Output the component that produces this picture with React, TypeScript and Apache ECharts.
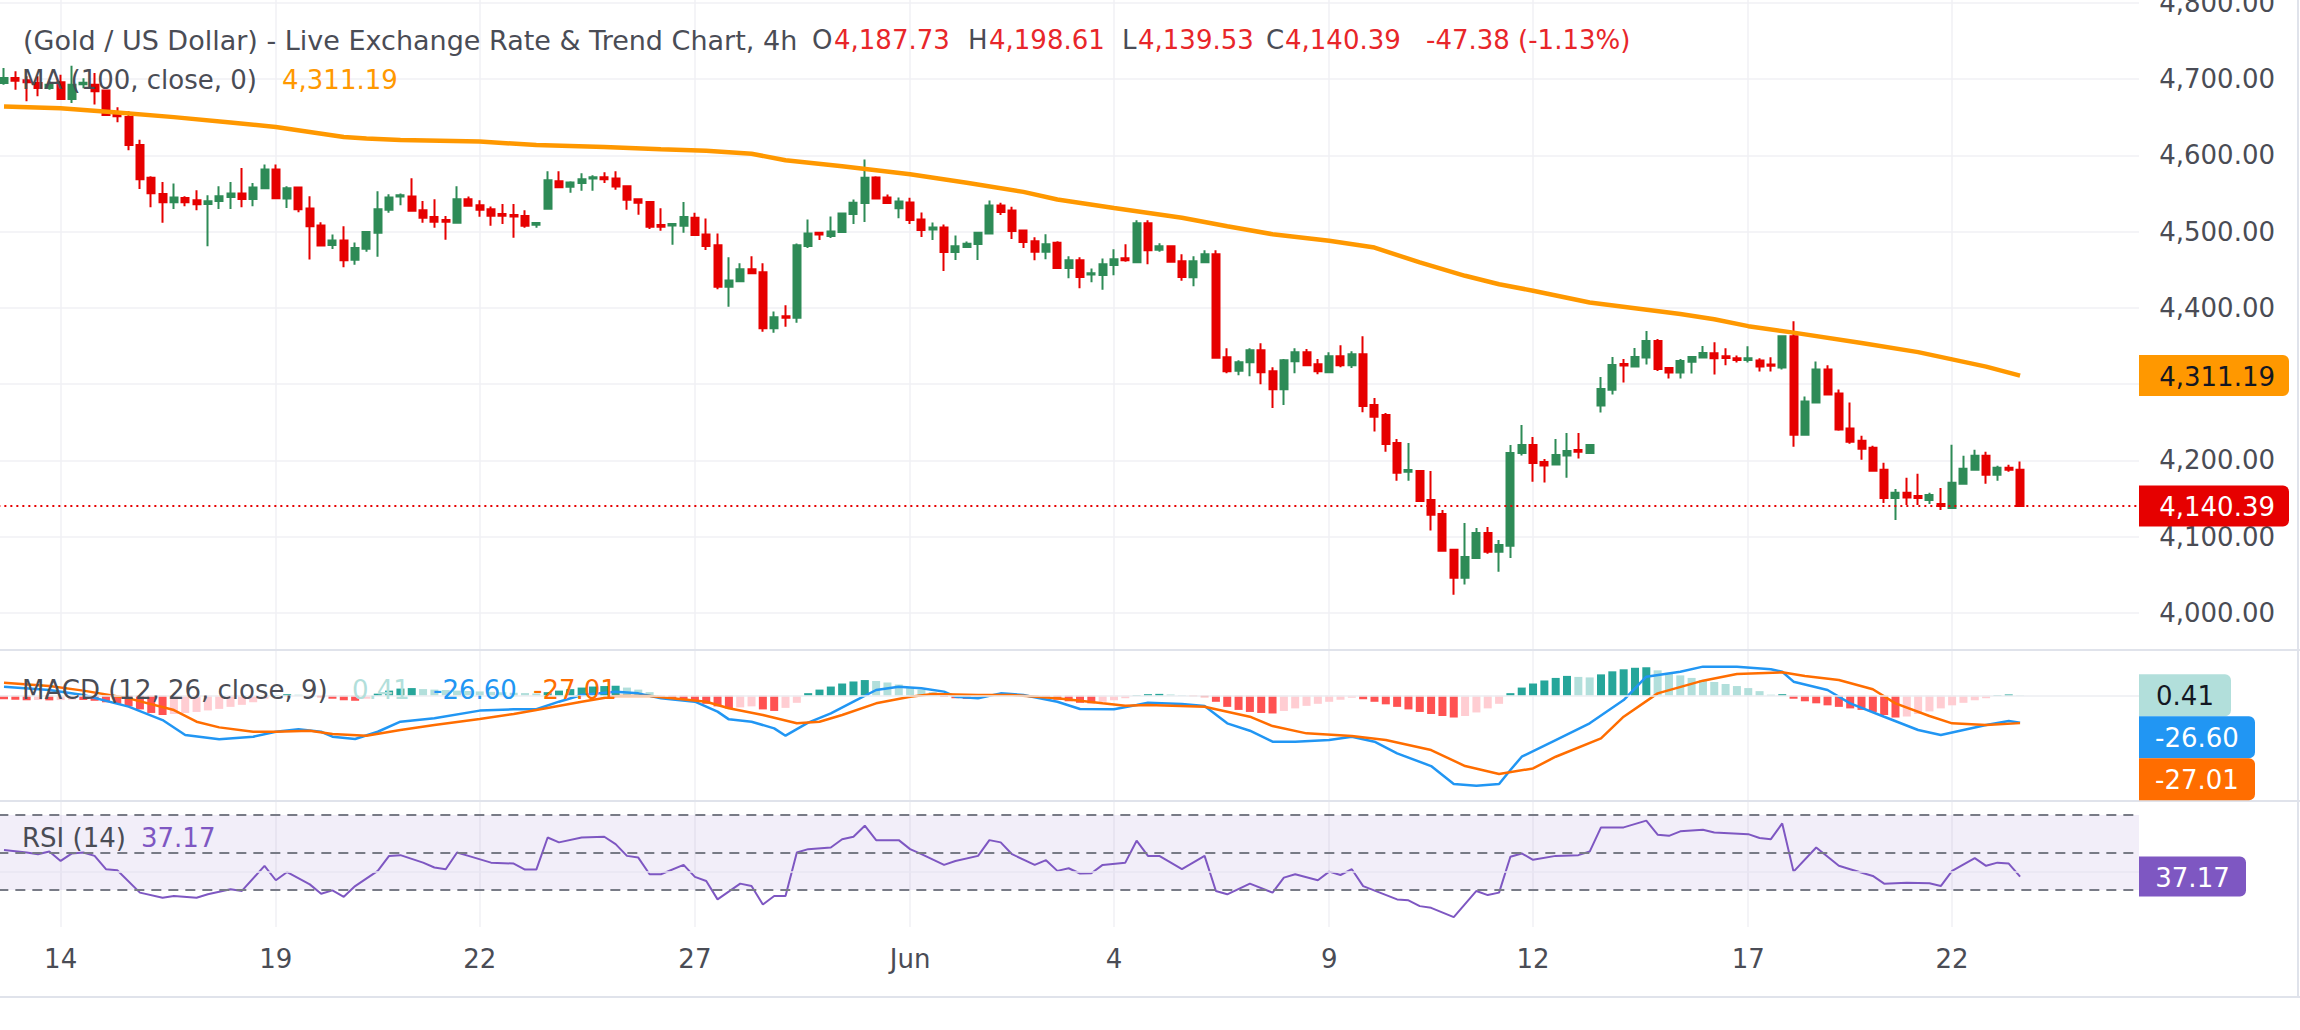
import React, { useEffect, useRef } from "react";
import * as echarts from "echarts";

// ---- 4h candles, XAU/USD ----
const openValues = [
  4694.8, 4701.3, 4698.3, 4694.8, 4688.2, 4695.6, 4673.8, 4693.0, 4692.6, 4685.0,
  4653.3, 4650.2, 4613.5, 4570.7, 4549.3, 4538.4, 4544.1, 4541.0, 4536.2, 4540.2,
  4545.4, 4549.8, 4542.8, 4556.8, 4581.2, 4543.2, 4557.6, 4530.1, 4507.9, 4482.5,
  4488.2, 4463.2, 4477.6, 4498.5, 4528.5, 4546.0, 4546.0, 4528.1, 4519.0, 4515.0,
  4511.5, 4542.5, 4534.6, 4529.4, 4522.9, 4521.6, 4520.3, 4508.9, 4529.8, 4566.0,
  4558.6, 4563.8, 4569.5, 4571.2, 4569.5, 4559.5, 4542.5, 4538.6, 4508.5, 4508.0,
  4507.6, 4518.1, 4496.3, 4481.9, 4427.5, 4434.9, 4450.5, 4446.6, 4373.4, 4389.1,
  4386.9, 4481.0, 4498.5, 4494.1, 4499.3, 4522.9, 4537.3, 4570.8, 4544.7, 4530.7,
  4538.1, 4515.9, 4502.8, 4505.4, 4473.2, 4479.7, 4483.7, 4497.6, 4534.2, 4527.7,
  4501.5, 4487.3, 4473.4, 4485.2, 4452.4, 4462.4, 4443.7, 4443.2, 4456.3, 4465.1,
  4459.8, 4510.9, 4476.0, 4480.8, 4461.1, 4440.2, 4459.8, 4470.3, 4335.4, 4317.5,
  4328.8, 4344.5, 4317.0, 4293.4, 4330.1, 4341.9, 4326.2, 4315.7, 4336.7, 4324.9,
  4339.3, 4272.7, 4259.6, 4222.9, 4185.3, 4186.2, 4148.2, 4129.8, 4083.0, 4046.3,
  4072.1, 4104.9, 4080.4, 4088.3, 4209.8, 4220.3, 4198.0, 4194.5, 4206.3, 4213.7,
  4209.8, 4271.9, 4292.8, 4326.5, 4323.0, 4334.8, 4356.6, 4321.2, 4315.1, 4329.5,
  4334.8, 4340.4, 4336.4, 4333.8, 4331.6, 4331.1, 4325.9, 4321.9, 4362.7, 4233.8,
  4275.9, 4319.3, 4287.7, 4241.7, 4225.9, 4216.7, 4187.7, 4150.9, 4157.5, 4153.5,
  4148.2, 4143.0, 4137.7, 4169.3, 4187.7, 4206.1, 4181.1, 4190.4, 4187.73,
];
const highValues = [
  4714.4, 4710.0, 4703.5, 4703.5, 4697.0, 4705.7, 4717.5, 4701.0, 4707.9, 4685.0,
  4662.9, 4657.6, 4620.5, 4572.5, 4565.1, 4562.9, 4546.3, 4554.1, 4547.6, 4559.4,
  4565.1, 4583.4, 4563.8, 4587.8, 4587.8, 4559.4, 4557.6, 4546.3, 4512.2, 4496.1,
  4507.0, 4485.8, 4500.7, 4552.9, 4549.0, 4549.9, 4569.9, 4539.9, 4542.5, 4520.3,
  4559.5, 4546.0, 4541.2, 4532.9, 4536.0, 4536.0, 4528.1, 4511.1, 4579.1, 4579.1,
  4566.0, 4576.5, 4573.9, 4577.8, 4579.1, 4559.5, 4542.5, 4539.9, 4530.7, 4509.8,
  4538.6, 4524.6, 4517.2, 4497.6, 4466.2, 4458.4, 4467.5, 4458.4, 4395.2, 4403.5,
  4484.5, 4515.9, 4499.8, 4519.8, 4524.6, 4542.0, 4594.3, 4572.5, 4548.6, 4544.7,
  4544.2, 4525.0, 4512.0, 4509.4, 4495.0, 4487.1, 4498.5, 4540.7, 4537.7, 4532.5,
  4502.8, 4492.6, 4496.5, 4487.3, 4467.7, 4466.4, 4451.5, 4464.6, 4476.9, 4483.4,
  4514.8, 4514.8, 4484.7, 4480.8, 4470.3, 4467.7, 4475.5, 4475.5, 4347.2, 4331.4,
  4347.2, 4353.7, 4322.3, 4332.8, 4347.2, 4345.9, 4332.8, 4341.9, 4351.1, 4343.2,
  4362.9, 4281.9, 4262.2, 4228.1, 4222.9, 4187.5, 4186.2, 4135.0, 4083.9, 4118.0,
  4111.4, 4112.8, 4095.7, 4220.3, 4246.5, 4230.8, 4202.0, 4228.1, 4236.0, 4236.0,
  4220.3, 4309.4, 4335.7, 4333.0, 4347.5, 4369.8, 4359.3, 4322.6, 4333.0, 4335.7,
  4350.1, 4354.8, 4346.9, 4337.7, 4349.6, 4333.8, 4335.1, 4364.0, 4382.5, 4283.8,
  4329.8, 4324.6, 4293.0, 4275.9, 4232.5, 4219.3, 4196.9, 4162.7, 4177.2, 4182.5,
  4157.5, 4164.0, 4220.6, 4206.1, 4214.0, 4211.4, 4193.0, 4194.3, 4198.61,
];
const lowValues = [
  4692.6, 4686.0, 4670.7, 4677.3, 4686.0, 4672.9, 4668.6, 4688.0, 4666.4, 4652.0,
  4643.2, 4606.6, 4555.9, 4531.9, 4511.4, 4529.7, 4533.2, 4528.0, 4480.8, 4529.7,
  4529.7, 4531.9, 4533.2, 4556.8, 4543.7, 4531.0, 4525.3, 4463.3, 4480.8, 4477.3,
  4453.3, 4456.6, 4473.6, 4467.1, 4524.6, 4534.6, 4527.2, 4511.5, 4505.0, 4489.3,
  4511.5, 4532.9, 4519.4, 4507.6, 4509.8, 4491.9, 4505.0, 4505.0, 4529.8, 4557.3,
  4550.8, 4553.4, 4553.4, 4563.8, 4554.7, 4528.5, 4522.0, 4503.3, 4501.1, 4482.8,
  4498.5, 4495.4, 4475.8, 4424.4, 4401.3, 4434.0, 4444.0, 4368.6, 4367.3, 4375.2,
  4380.4, 4478.4, 4488.9, 4491.5, 4499.3, 4509.8, 4512.4, 4542.0, 4537.3, 4517.6,
  4509.8, 4492.8, 4488.9, 4448.4, 4462.7, 4479.7, 4462.7, 4497.6, 4521.6, 4490.2,
  4478.4, 4462.4, 4463.8, 4452.4, 4438.9, 4425.8, 4433.6, 4423.6, 4442.8, 4460.3,
  4459.0, 4457.2, 4473.4, 4460.3, 4435.4, 4428.4, 4458.5, 4334.5, 4314.4, 4311.8,
  4310.5, 4300.0, 4268.6, 4272.5, 4314.4, 4323.6, 4313.1, 4314.4, 4322.3, 4321.0,
  4263.3, 4237.8, 4211.5, 4173.5, 4173.5, 4146.0, 4108.0, 4081.7, 4024.0, 4037.2,
  4070.8, 4077.8, 4054.2, 4072.1, 4206.3, 4172.2, 4170.9, 4193.2, 4177.4, 4202.4,
  4209.8, 4262.7, 4286.3, 4302.0, 4323.0, 4325.6, 4317.3, 4307.3, 4307.3, 4313.8,
  4333.5, 4312.7, 4324.6, 4328.5, 4328.5, 4316.7, 4316.7, 4319.3, 4218.0, 4233.8,
  4275.9, 4286.4, 4239.0, 4221.9, 4200.9, 4186.4, 4144.3, 4121.9, 4141.7, 4141.7,
  4143.0, 4135.1, 4137.7, 4169.3, 4187.7, 4169.3, 4173.2, 4185.1, 4139.53,
];
const closeValues = [
  4701.3, 4697.8, 4695.6, 4688.2, 4692.6, 4673.8, 4692.6, 4695.0, 4683.8, 4652.8,
  4651.0, 4613.5, 4568.6, 4550.2, 4538.4, 4544.5, 4538.4, 4535.8, 4539.7, 4546.3,
  4549.8, 4542.8, 4557.6, 4581.2, 4543.7, 4556.8, 4529.3, 4507.0, 4481.7, 4488.2,
  4462.4, 4478.4, 4499.3, 4529.4, 4544.7, 4547.7, 4527.2, 4518.1, 4512.9, 4512.9,
  4542.5, 4533.8, 4528.5, 4520.7, 4520.7, 4519.8, 4507.6, 4511.1, 4567.3, 4558.2,
  4564.3, 4568.6, 4571.2, 4568.6, 4559.0, 4541.6, 4537.7, 4506.3, 4506.3, 4509.8,
  4519.0, 4495.4, 4481.0, 4427.5, 4435.7, 4450.5, 4445.3, 4373.4, 4387.8, 4386.9,
  4481.9, 4497.6, 4496.3, 4500.2, 4523.7, 4537.7, 4570.4, 4543.4, 4537.3, 4539.4,
  4515.0, 4502.0, 4505.4, 4473.2, 4480.6, 4484.1, 4498.5, 4534.2, 4525.5, 4500.7,
  4486.3, 4473.4, 4483.4, 4452.4, 4462.4, 4440.6, 4445.4, 4457.2, 4463.8, 4462.4,
  4510.9, 4475.5, 4480.8, 4460.3, 4440.6, 4461.1, 4470.3, 4334.5, 4317.0, 4328.8,
  4344.5, 4315.7, 4293.4, 4331.4, 4341.9, 4324.9, 4317.0, 4336.7, 4324.9, 4339.3,
  4271.2, 4257.4, 4221.6, 4184.0, 4187.5, 4146.9, 4128.9, 4081.7, 4046.3, 4073.4,
  4104.9, 4080.4, 4089.2, 4209.8, 4220.3, 4196.7, 4193.2, 4207.2, 4212.4, 4211.5,
  4220.3, 4293.7, 4325.2, 4324.3, 4335.7, 4356.6, 4319.9, 4315.1, 4330.4, 4335.7,
  4340.9, 4333.8, 4334.2, 4331.6, 4333.8, 4323.2, 4324.1, 4362.7, 4233.8, 4277.2,
  4319.3, 4286.4, 4240.4, 4224.6, 4215.4, 4186.4, 4150.9, 4157.5, 4151.3, 4150.9,
  4154.8, 4140.4, 4170.6, 4189.0, 4206.1, 4181.1, 4190.4, 4187.77, 4140.39,
];

// Candles where a new session date starts, and the caption printed under them
const dayTickIndex = [5, 24, 42, 61, 80, 98, 117, 135, 154, 172];
const dayTickLabel = ["14", "19", "22", "27", "Jun", "4", "9", "12", "17", "22"];

// MA (100, close) — [candle index, value]
const maPoints = [
  [0, 4664], [5, 4661.5], [10, 4656], [15, 4650], [20, 4643], [24, 4637], [30, 4624],
  [32, 4622], [35, 4620], [42, 4618], [47, 4613.5], [53, 4611], [58, 4608], [62, 4606],
  [66, 4602], [69, 4593.5], [74, 4585.5], [80, 4575], [85, 4564], [90, 4552], [93, 4542],
  [98, 4531], [104, 4518], [108, 4507], [112, 4496.5], [117, 4488], [121, 4479],
  [125, 4459.5], [129, 4442], [132, 4431], [135, 4422.5], [140, 4407], [144, 4399.5],
  [148, 4392], [151, 4385], [154, 4376], [158, 4367.5], [164, 4354], [169, 4342],
  [172, 4332.5], [175, 4323], [178, 4311.19],
];

// MACD (12, 26, close, 9)
const macdPoints = [
  [0, 8.9], [4, 5.6], [7, 0.7], [11, -10.8], [14, -24], [16, -38.7], [19, -43], [22, -40.4],
  [24, -35.5], [26, -33.1], [28, -35.5], [29, -40.4], [31, -42.7], [33, -35.5], [35, -25.6],
  [38, -22.3], [42, -14.7], [45, -13.4], [47, -13.4], [49, -5.9], [51, 0.7], [54, 4],
  [56, 2.3], [58, -2.6], [61, -5.9], [63, -15.7], [64, -23.3], [66, -25.6], [68, -32.2],
  [69, -39.4], [71, -26.6], [73, -17.4], [75, -5.9], [77, 5.6], [79, 8.9], [81, 7.3],
  [83, 4], [84, -1], [86, -2.6], [88, 2.3], [90, 0.7], [93, -5.9], [95, -13.1], [98, -13.4],
  [100, -9.2], [101, -6.9], [104, -8.2], [106, -10.1], [108, -27.2], [110, -34.5],
  [112, -45.3], [114, -45.3], [117, -43.6], [119, -40.4], [121, -45.3], [123, -56.8],
  [126, -69.3], [128, -87], [130, -88.6], [132, -87], [133, -73.2], [134, -60.1],
  [137, -43.7], [140, -27.2], [143, -4.3], [145, 18.7], [148, 23.6], [150, 28.6],
  [153, 28.6], [156, 26], [157, 23.6], [158, 13.8], [161, 5.6], [163, -7.5], [166, -20.7],
  [169, -33.8], [171, -38.7], [173, -33.8], [175, -28.9], [177, -24.9], [178, -26.6],
];
const signalPoints = [
  [0, 12.8], [4, 9.6], [7, 5], [11, -2.6], [15, -14.1], [17, -25.6], [19, -31.2], [22, -35.5],
  [24, -35.5], [27, -34.5], [29, -37.7], [32, -39.4], [35, -33.8], [38, -28.9], [42, -23],
  [45, -18], [47, -14.1], [51, -5.9], [54, -0.3], [57, -0.3], [59, -2.6], [62, -5.9],
  [64, -12.4], [67, -19], [70, -27.2], [72, -25.6], [74, -19], [77, -7.5], [80, -1],
  [82, 1.7], [86, 0.7], [89, 0.7], [93, -2.6], [97, -7.5], [99, -9.8], [101, -9.2],
  [106, -10.8], [110, -20.7], [112, -29.9], [115, -37.1], [119, -39.7], [122, -43.7],
  [126, -53.5], [129, -69.3], [132, -77.2], [135, -71.6], [137, -60.1], [141, -42],
  [143, -20.7], [146, 2.3], [150, 14.8], [153, 21.4], [157, 23], [159, 19.4], [162, 15.5],
  [165, 6.3], [167, -7.5], [170, -20], [172, -27.2], [175, -28.9], [178, -27.01],
];
const histValues = [
  -3.5, -4.0, -4.5, -4.2, -4.6, -4.3, -3.9, -4.2, -5.0,
  -6.5, -8.0, -10.5, -13.5, -17.0, -19.0,
  -18.0, -17.0, -16.0, -14.5, -13.0, -11.0, -9.0, -6.5, -3.0,
  0.5, 1.5, 1.0, 0.3, -1.5, -3.0, -4.5, -5.0, -3.0,
  2.0, 5.0, 7.0, 7.5,
  6.5, 6.0, 5.6, 5.0, 4.6, 4.2, 3.8, 3.4, 3.0, 2.6, 2.2,
  3.5, 5.0, 6.5, 8.0, 9.0, 9.5, 9.8,
  8.0, 6.0, 3.5,
  -1.5, -3.0, -4.5, -6.0, -8.0, -10.5, -12.5, -11.5, -10.5, -13.5, -15.0, -12.0, -7.0,
  2.5, 6.0, 9.0, 12.0, 14.0, 15.4, 14.5,
  13.0, 11.0, 8.5, 6.0, 3.5,
  -1.0, -2.5, -3.2, -2.0,
  0.8, 1.5, 1.2, 0.5,
  -1.0, -2.5, -4.0, -5.5, -7.0, -7.5, -6.0, -4.5, -2.5,
  0.5, 1.5, 1.8, 1.2, 0.6, -0.5, -1.5,
  -6.0, -11.0, -14.0, -16.0, -17.0, -17.5,
  -15.0, -12.5, -10.0, -8.0, -6.0, -4.0, -2.0,
  -3.5, -6.0, -8.5, -11.0, -13.5, -16.0, -18.0, -20.0, -21.5,
  -20.0, -16.5, -12.5, -8.0,
  2.5, 8.0, 12.0, 15.0, 17.5, 19.5, 18.5, 18.0, 21.0, 24.0, 26.0, 27.5, 28.0,
  25.0, 22.5, 20.0, 17.5, 15.5, 13.5, 11.5, 9.5, 7.5, 4.5, 1.0,
  1.5,
  -3.0, -5.5, -7.5, -9.5, -11.0, -12.5, -14.0, -16.0, -19.0, -21.5,
  -20.5, -18.0, -15.5, -12.5, -9.5, -7.0, -4.5, -2.5,
  0.5, 1.2, 0.41,
];

// RSI (14)
const rsiPoints = [
  [0, 51.3], [2, 50], [3, 49.1], [4, 50.5], [5, 45.5], [6, 49.5], [7, 50], [8, 48.2], [9, 41.1],
  [10, 40.5], [12, 28.6], [14, 25.9], [15, 26.8], [17, 25.9], [18, 27.7], [20, 30.4], [21, 29.5],
  [23, 42.9], [24, 35.2], [25, 39.6], [27, 33], [28, 28], [29, 29.8], [30, 26.4], [31, 32.1],
  [33, 40.2], [34, 48.2], [35, 48.6], [37, 44.6], [38, 42], [39, 41.1], [40, 50], [41, 48.2],
  [43, 44.6], [45, 44.1], [46, 40.9], [47, 40.9], [48, 58], [49, 55.4], [51, 58], [53, 58.4],
  [54, 54.5], [55, 48.2], [56, 47.3], [57, 38.4], [58, 38.4], [60, 43.4], [61, 37], [62, 34.8],
  [63, 25], [65, 33.4], [66, 32.1], [67, 22.3], [68, 26.8], [69, 26.8], [70, 50], [71, 51.8],
  [73, 52.7], [74, 57.1], [75, 58.4], [76, 64.3], [77, 56.6], [79, 56.6], [80, 51.8], [81, 49.1],
  [83, 43.4], [84, 45.5], [86, 48.2], [87, 56.6], [88, 55.4], [89, 49.1], [91, 43.4], [92, 45.9],
  [93, 40.2], [94, 41.6], [95, 38.8], [96, 38.9], [97, 43.4], [99, 44.6], [100, 56.3], [101, 48.2],
  [102, 48.2], [104, 41.1], [106, 48.2], [107, 29.5], [108, 27.7], [110, 33.4], [112, 28.6],
  [113, 36.6], [114, 38.4], [116, 35.2], [117, 39.8], [118, 38], [119, 41.1], [120, 32.1],
  [123, 25], [124, 24.5], [125, 21.4], [126, 20.5], [128, 15.5], [130, 29.5], [131, 27.3],
  [132, 28.6], [133, 47.7], [134, 49.5], [135, 46.1], [137, 48.2], [139, 48.6], [140, 50.5],
  [141, 63.4], [143, 63.4], [145, 67], [146, 59.5], [147, 58.9], [148, 61.3], [150, 62.1],
  [151, 60.7], [154, 59.8], [155, 57.7], [156, 57.1], [157, 65.5], [158, 39.8], [160, 52.7],
  [162, 42.9], [163, 41.1], [165, 37.5], [166, 33.4], [168, 33.9], [170, 33.6], [171, 32.1],
  [172, 40.2], [174, 47], [175, 42.9], [176, 44.6], [177, 44.1], [178, 37.17],
];
const rsiBands = [70, 50, 30];

// ---- layout ----
const FONT = "DejaVu Sans";
const TEXT = "#4a4c55";
const UP = "#2e8b57";
const DOWN = "#e60000";
const GRID_LINE = "#f0f1f4";
const PANE_LINE = "#e0e3eb";

const SLOT_COUNT = 189; // candles plus empty room on the right
const slotNames = Array.from({ length: SLOT_COUNT }, (_, i) => "s" + i);
const PLOT_LEFT = -1.66;
const PLOT_RIGHT = 2139;
const PLOT_W = PLOT_RIGHT - PLOT_LEFT;
const MAIN = { top: 2.7, height: 610.3 };
const MACD = { top: 650, height: 151 };
const RSI = { top: 801, height: 126 };

const fmtPrice = (v: number) =>
  v.toLocaleString("en-US", { minimumFractionDigits: 2, maximumFractionDigits: 2 });

const histColors = histValues.map((v, i) => {
  const prev = i > 0 ? histValues[i - 1] : v;
  if (v >= 0) return v > prev ? "#26a69a" : "#b2dfdb";
  return v > prev ? "#ffcdd2" : "#ff5252";
});

function buildOption(): any {
  const candles = openValues.map((o, i) => [o, closeValues[i], lowValues[i], highValues[i]]);
  const lastClose = closeValues[closeValues.length - 1];
  const tickMap = new Map<number, string>();
  dayTickIndex.forEach((idx, k) => tickMap.set(idx, dayTickLabel[k]));

  const xAxisBase = {
    type: "category",
    data: slotNames,
    boundaryGap: true,
    axisLine: { show: false },
    axisTick: { show: false },
    axisLabel: { show: false },
    splitLine: { show: false },
  };
  const gridBase = { left: PLOT_LEFT, width: PLOT_W, containLabel: false, outerBoundsMode: "none" };

  return {
    animation: false,
    backgroundColor: "#ffffff",
    textStyle: { fontFamily: FONT },
    grid: [
      { ...gridBase, top: MAIN.top, height: MAIN.height },
      { ...gridBase, top: MACD.top, height: MACD.height },
      { ...gridBase, top: RSI.top, height: RSI.height },
      { ...gridBase, top: 0, height: RSI.top + RSI.height },
    ],
    xAxis: [
      { ...xAxisBase, gridIndex: 0 },
      { ...xAxisBase, gridIndex: 1 },
      { ...xAxisBase, gridIndex: 2 },
      {
        ...xAxisBase,
        gridIndex: 3,
        position: "bottom",
        axisLabel: {
          show: true,
          interval: (i: number) => tickMap.has(i),
          formatter: (_v: string, i: number) => tickMap.get(i) || "",
          color: TEXT,
          fontSize: 26,
          fontFamily: FONT,
          margin: 19,
        },
      },
    ],
    yAxis: [
      {
        type: "value",
        gridIndex: 0,
        position: "right",
        min: 4000,
        max: 4800,
        interval: 100,
        axisLine: { show: false },
        axisTick: { show: false },
        splitLine: { show: true, lineStyle: { color: GRID_LINE, width: 1.5 } },
        axisLabel: {
          color: TEXT,
          fontSize: 26,
          fontFamily: FONT,
          align: "right",
          margin: 136,
          formatter: (v: number) => fmtPrice(v),
        },
      },
      { type: "value", gridIndex: 1, min: -103.7, max: 45, show: false },
      { type: "value", gridIndex: 2, min: 10.27, max: 77.47, show: false },
      { type: "value", gridIndex: 3, min: 0, max: 1, show: false },
    ],
    series: [
      {
        // day separators running through every pane
        type: "line",
        xAxisIndex: 3,
        yAxisIndex: 3,
        data: [],
        silent: true,
        z: 0,
        markLine: {
          silent: true,
          z: 0,
          symbol: ["none", "none"],
          label: { show: false },
          lineStyle: { color: GRID_LINE, width: 1.5, type: "solid" },
          data: dayTickIndex.map((i) => ({ xAxis: slotNames[i] })),
        },
      },
      {
        type: "candlestick",
        xAxisIndex: 0,
        yAxisIndex: 0,
        data: candles,
        barWidth: 7.5,
        z: 3,
        itemStyle: {
          color: UP,
          color0: DOWN,
          borderColor: UP,
          borderColor0: DOWN,
          borderWidth: 2,
        },
        markLine: {
          silent: true,
          symbol: ["none", "none"],
          label: { show: false },
          lineStyle: { color: DOWN, type: [2, 4], width: 2 },
          data: [{ yAxis: lastClose }],
        },
      },
      {
        type: "line",
        xAxisIndex: 0,
        yAxisIndex: 0,
        data: maPoints,
        showSymbol: false,
        z: 4,
        lineStyle: { color: "#ff9800", width: 4.5 },
      },
      {
        type: "bar",
        xAxisIndex: 1,
        yAxisIndex: 1,
        barWidth: 8,
        data: histValues.map((v, i) => ({ value: v, itemStyle: { color: histColors[i] } })),
      },
      {
        type: "line",
        xAxisIndex: 1,
        yAxisIndex: 1,
        data: macdPoints,
        showSymbol: false,
        z: 4,
        lineStyle: { color: "#2196f3", width: 2.5 },
        markLine: {
          silent: true,
          symbol: ["none", "none"],
          label: { show: false },
          lineStyle: { color: "#eceef2", type: "solid", width: 1.5 },
          data: [{ yAxis: 0 }],
        },
      },
      {
        type: "line",
        xAxisIndex: 1,
        yAxisIndex: 1,
        data: signalPoints,
        showSymbol: false,
        z: 4,
        lineStyle: { color: "#ff6d00", width: 2.5 },
      },
      {
        type: "line",
        xAxisIndex: 2,
        yAxisIndex: 2,
        data: rsiPoints,
        showSymbol: false,
        z: 4,
        lineStyle: { color: "#7e57c2", width: 2 },
        markArea: {
          silent: true,
          itemStyle: { color: "rgba(126, 87, 194, 0.1)" },
          data: [[{ yAxis: rsiBands[2] }, { yAxis: rsiBands[0] }]],
        },
        markLine: {
          silent: true,
          symbol: ["none", "none"],
          label: { show: false },
          lineStyle: { color: "#787b86", type: [10, 7], width: 2 },
          data: [
            { yAxis: 40, lineStyle: { color: "#e9e6f2", type: "solid", width: 1.5 } },
            ...rsiBands.map((b) => ({ yAxis: b })),
          ],
        },
      },
    ],
  };
}

function txt(x: number, y: number, text: string, fill: string, size = 26) {
  return {
    type: "text",
    x,
    y,
    z: 100,
    silent: true,
    style: {
      text,
      fill,
      fontSize: size,
      fontFamily: FONT,
      textAlign: "left",
      textVerticalAlign: "middle",
      align: "left",
      verticalAlign: "middle",
    },
  };
}

function tag(yc: number, h: number, w: number, fill: string, color: string, text: string, centered: boolean) {
  const x0 = PLOT_RIGHT;
  const tx = centered ? x0 + w / 2 : 2275;
  const al = centered ? "center" : "right";
  return {
    type: "group",
    z: 110,
    silent: true,
    children: [
      {
        type: "rect",
        z: 110,
        shape: { x: x0, y: yc - h / 2, width: w, height: h, r: [0, 6, 6, 0] },
        style: { fill },
      },
      {
        type: "text",
        z: 111,
        x: tx,
        y: yc + 1,
        style: {
          text,
          fill: color,
          fontSize: 26,
          fontFamily: FONT,
          textAlign: al,
          align: al,
          textVerticalAlign: "middle",
          verticalAlign: "middle",
        },
      },
    ],
  };
}

function stack(items: { y: number; h: number }[]) {
  const order = items.map((_it, i) => i).sort((a, b) => items[a].y - items[b].y);
  let bottom = -Infinity;
  const out = new Array(items.length);
  for (const i of order) {
    const top = Math.max(items[i].y - items[i].h / 2, bottom);
    out[i] = top + items[i].h / 2;
    bottom = top + items[i].h;
  }
  return out as number[];
}

function buildGraphics(chart: any) {
  const n = closeValues.length;
  const o = openValues[n - 1];
  const h = highValues[n - 1];
  const l = lowValues[n - 1];
  const c = closeValues[n - 1];
  const prev = closeValues[n - 2];
  const chg = c - prev;
  const pct = (chg / prev) * 100;
  const lastMa = maPoints[maPoints.length - 1][1];
  const lastMacd = macdPoints[macdPoints.length - 1][1];
  const lastSignal = signalPoints[signalPoints.length - 1][1];
  const lastHist = histValues[histValues.length - 1];
  const lastRsi = rsiPoints[rsiPoints.length - 1][1];
  const red = "#e8262a";

  const els: any[] = [];

  // pane borders
  const hl = (y: number) => ({
    type: "line",
    z: 50,
    silent: true,
    shape: { x1: 0, y1: y, x2: 2300, y2: y },
    style: { stroke: PANE_LINE, lineWidth: 2 },
  });
  els.push(hl(650), hl(801), hl(997));
  els.push({
    type: "line",
    z: 50,
    silent: true,
    shape: { x1: 2298, y1: 0, x2: 2298, y2: 997 },
    style: { stroke: PANE_LINE, lineWidth: 2 },
  });

  // title row
  els.push(txt(23, 40, "(Gold / US Dollar) - Live Exchange Rate & Trend Chart, 4h", TEXT, 27));
  els.push(txt(812, 40, "O", TEXT), txt(834, 40, fmtPrice(o), red));
  els.push(txt(968, 40, "H", TEXT), txt(989, 40, fmtPrice(h), red));
  els.push(txt(1122, 40, "L", TEXT), txt(1138, 40, fmtPrice(l), red));
  els.push(txt(1266, 40, "C", TEXT), txt(1285, 40, fmtPrice(c), red));
  els.push(txt(1426, 40, `${chg.toFixed(2)} (${pct.toFixed(2)}%)`, red));

  // indicator legends
  els.push(txt(22, 80, "MA (100, close, 0)", TEXT), txt(282, 80, fmtPrice(lastMa), "#ff9800"));
  els.push(txt(22, 690, "MACD (12, 26, close, 9)", TEXT));
  els.push(txt(352, 690, lastHist.toFixed(2), histColors[histColors.length - 1]));
  els.push(txt(433, 690, lastMacd.toFixed(2), "#2196f3"));
  els.push(txt(533, 690, lastSignal.toFixed(2), "#ff6d00"));
  els.push(txt(22, 838, "RSI (14)", TEXT), txt(141, 838, lastRsi.toFixed(2), "#7e57c2"));

  // price-scale tags
  const yMa = chart.convertToPixel({ yAxisIndex: 0 }, lastMa);
  const yClose = chart.convertToPixel({ yAxisIndex: 0 }, c);
  els.push(tag(yMa, 41, 150, "#ff9800", "#131722", fmtPrice(lastMa), false));
  els.push(tag(yClose, 41, 150, DOWN, "#ffffff", fmtPrice(c), false));

  const macdTags = [
    { y: chart.convertToPixel({ yAxisIndex: 1 }, lastHist), h: 42 },
    { y: chart.convertToPixel({ yAxisIndex: 1 }, lastMacd), h: 42 },
    { y: chart.convertToPixel({ yAxisIndex: 1 }, lastSignal), h: 42 },
  ];
  const [yH, yM, yS] = stack(macdTags);
  els.push(tag(yH, 42, 92, histColors[histColors.length - 1], "#131722", lastHist.toFixed(2), true));
  els.push(tag(yM, 42, 116, "#2196f3", "#ffffff", lastMacd.toFixed(2), true));
  els.push(tag(yS, 42, 116, "#ff6d00", "#ffffff", lastSignal.toFixed(2), true));

  const yR = chart.convertToPixel({ yAxisIndex: 2 }, lastRsi);
  els.push(tag(yR, 40, 107, "#7e57c2", "#ffffff", lastRsi.toFixed(2), true));

  return els;
}

export default function App() {
  const ref = useRef<HTMLDivElement>(null);
  useEffect(() => {
    const el = ref.current;
    if (!el) return;
    const chart = echarts.init(el, null, { renderer: "svg" });
    chart.setOption(buildOption());
    chart.setOption({ graphic: { elements: buildGraphics(chart) } });
    return () => chart.dispose();
  }, []);
  return (
    <div
      ref={ref}
      style={{ position: "absolute", left: 0, top: 0, width: 2300, height: 1030, background: "#ffffff" }}
    />
  );
}
